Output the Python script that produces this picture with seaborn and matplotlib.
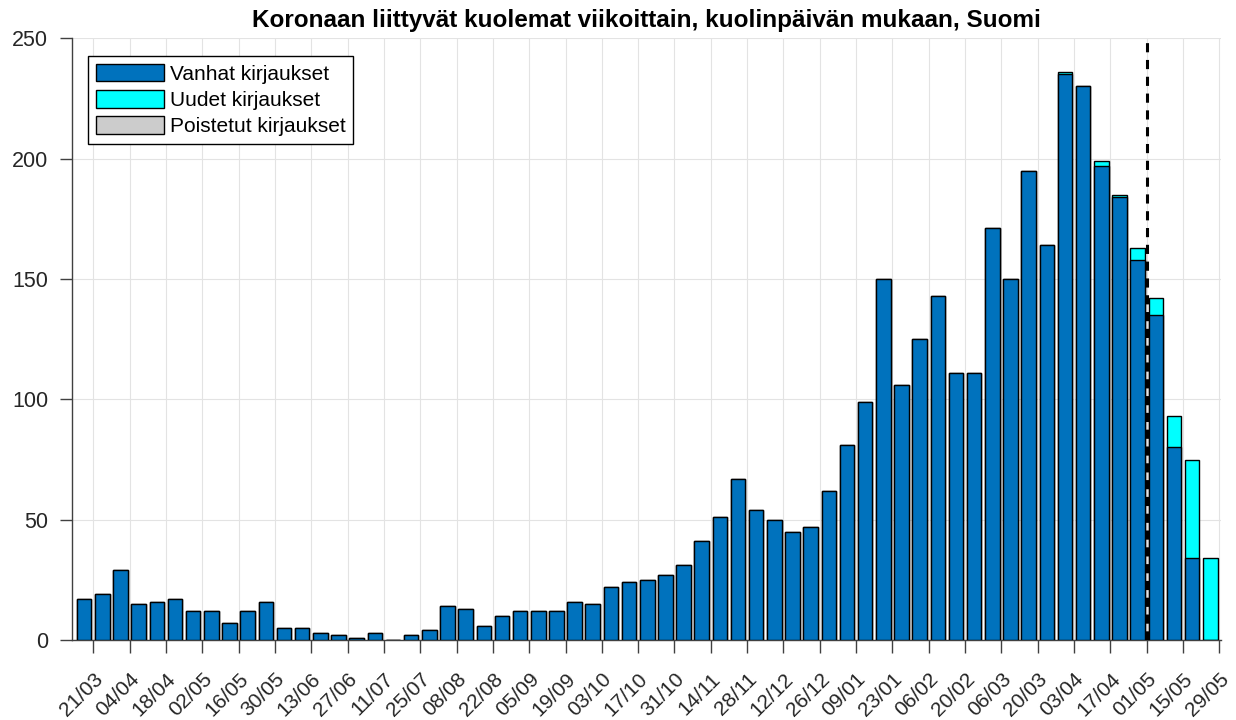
import numpy as np
import pandas as pd
import seaborn as sns
import matplotlib
matplotlib.use("Agg")
import matplotlib.pyplot as plt
from matplotlib.patches import Patch

# weekly values (21/03/2020 .. 29/05/2021)
old_counts = [17, 19, 29, 15, 16, 17, 12, 12, 7, 12,
              16, 5, 5, 3, 2, 1, 3, 0, 2, 4,
              14, 13, 6, 10, 12, 12, 12, 16, 15, 22,
              24, 25, 27, 31, 41, 51, 67, 54, 50, 45,
              47, 62, 81, 99, 150, 106, 125, 143, 111, 111,
              171, 150, 195, 164, 235, 230, 197, 184, 158, 135,
              80, 34, 0]
new_counts = [0] * 54 + [1, 0, 2, 1, 5, 7, 13, 41, 34]
removed_counts = [0] * 63

tick_labels = ['21/03', '04/04', '18/04', '02/05', '16/05', '30/05', '13/06', '27/06',
               '11/07', '25/07', '08/08', '22/08', '05/09', '19/09', '03/10', '17/10',
               '31/10', '14/11', '28/11', '12/12', '26/12', '09/01', '23/01', '06/02',
               '20/02', '06/03', '20/03', '03/04', '17/04', '01/05', '15/05', '29/05']
cutoff_label = '01/05'

c_old = '#0072BD'
c_new = '#00FFFF'
c_rem = '#CCCCCC'

sns.set_style("whitegrid")
plt.rcParams['font.family'] = ['Liberation Sans', 'DejaVu Sans']

df = pd.DataFrame({'week': np.arange(len(old_counts)),
                   'old': old_counts, 'new': new_counts, 'removed': removed_counts})
df['total'] = df['old'] + df['new']

fig = plt.figure(figsize=(12.36, 7.2), dpi=100)
ax = fig.add_axes([0.058, 0.111, 0.93, 0.836])

# stacked look: total (cyan) underneath, old (blue) drawn on top
sns.barplot(data=df, x='week', y='total', color=c_new, saturation=1, width=0.8,
            edgecolor='black', linewidth=1, ax=ax, zorder=3)
sns.barplot(data=df, x='week', y='old', color=c_old, saturation=1, width=0.8,
            edgecolor='black', linewidth=1, ax=ax, zorder=3)

tick_pos = np.arange(0, len(old_counts), 2) + 0.5
ax.set_xticks(tick_pos)
ax.set_xticklabels(tick_labels, rotation=45, ha='right', va='top',
                   rotation_mode='anchor', fontsize=15)
ax.set_xlim(-0.69, 62.6)
ax.set_ylim(0, 250)
ax.set_yticks([0, 50, 100, 150, 200, 250])
ax.tick_params(axis='y', left=True, labelsize=15.5, direction='out', length=9,
               width=1, color='#404040', labelcolor='#262626', pad=8)
ax.tick_params(axis='x', bottom=True, direction='out', length=9, width=1,
               color='#404040', pad=12, labelcolor='#262626')
ax.set_xlabel('')
ax.set_ylabel('')

ax.grid(True, color='#E3E3E3', linewidth=0.8, zorder=0)
ax.set_axisbelow(True)
for side in ['top', 'right']:
    ax.spines[side].set_visible(False)
for side in ['left', 'bottom']:
    ax.spines[side].set_color('#404040')
    ax.spines[side].set_linewidth(1)

cut_x = tick_pos[tick_labels.index(cutoff_label)]
ax.axvline(cut_x, color='black', linestyle=(0, (3, 2.5)), linewidth=2.2, zorder=4)

handles = [Patch(facecolor=c_old, edgecolor='black', label='Vanhat kirjaukset'),
           Patch(facecolor=c_new, edgecolor='black', label='Uudet kirjaukset'),
           Patch(facecolor=c_rem, edgecolor='black', label='Poistetut kirjaukset')]
leg = ax.legend(handles=handles, loc='upper left', bbox_to_anchor=(0.0145, 0.97),
                fontsize=15, handlelength=3.3, handleheight=0.95, handletextpad=0.25,
                labelspacing=0.3, borderpad=0.35, borderaxespad=0, fancybox=False,
                framealpha=1, edgecolor='black')
leg.get_frame().set_linewidth(1)
for t in leg.get_texts():
    t.set_color('black')

ax.set_title('Koronaan liittyvät kuolemat viikoittain, kuolinpäivän mukaan, Suomi',
             fontsize=17.5, fontweight='bold', pad=8, color='black')

fig.savefig('out.png', dpi=100)
